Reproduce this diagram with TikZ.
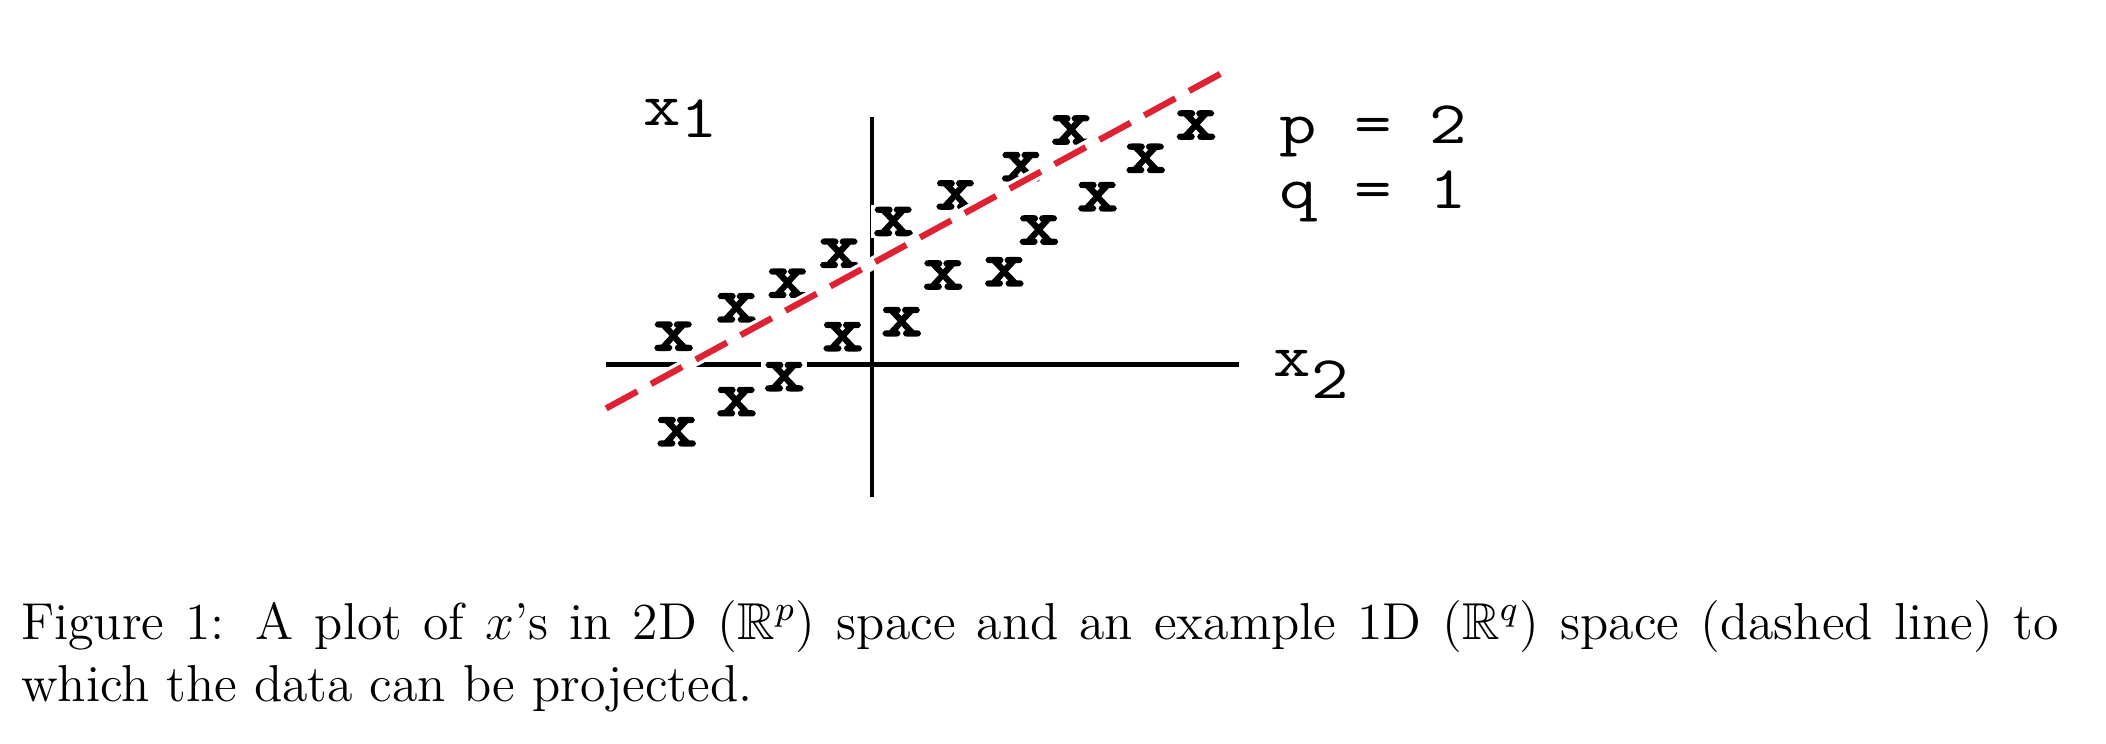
\documentclass[tikz,border=0pt]{standalone}
\usepackage{fontspec}
\usepackage{amssymb}
\usepackage{graphicx}
\newfontfamily\crossfont{lmmonolt10-bold}[Extension=.otf, FakeBold=2.2]
\definecolor{dashred}{RGB}{222,34,52}
\tikzset{
 axis/.style={line width=1pt, black},
 pt/.style={font=\fontsize{15}{17}\selectfont\crossfont, fill=white, inner sep=0.6pt},
 lbl/.style={font=\fontsize{14}{16}\selectfont\ttfamily, inner sep=0pt, anchor=base west},
 halo/.style={white, line width=3pt},
 proj/.style={dashred, line width=1.45pt, dash pattern=on 8.2pt off 3.6pt},
}
\newcommand\wide[1]{\scalebox{1.2}[1]{#1}}
\begin{document}
\begin{tikzpicture}[x=0.312pt,y=-0.312pt]
\useasboundingbox (0,0) rectangle (1560,551.1);
% axes
\coordinate (hL) at (449,270); \coordinate (hR) at (918,270);
\coordinate (vT) at (646,86.5); \coordinate (vB) at (646,368);
\draw[axis] (hL) -- (hR);
\draw[axis] (vT) -- (vB);
% data points
\node[pt] (c1) at (499,249) {\wide{x}};
\node[pt] (c2) at (545.6,228) {\wide{x}};
\node[pt] (c3) at (583.6,209.8) {\wide{x}};
\node[pt] (c4) at (621.8,187.6) {\wide{x}};
\node[pt] (c5) at (661.9,164) {\wide{x}};
\node[pt] (c6) at (708,144.4) {\wide{x}};
\node[pt] (c7) at (756.5,123.5) {\wide{x}};
\node[pt] (c8) at (793.7,96.3) {\wide{x}};
\node[pt] (c9) at (886,92.6) {\wide{x}};
\node[pt] (c10) at (848.7,117.3) {\wide{x}};
\node[pt] (c11) at (813,145.7) {\wide{x}};
\node[pt] (c12) at (769.6,170.4) {\wide{x}};
\node[pt] (c13) at (744,201.3) {\wide{x}};
\node[pt] (c14) at (698.7,203.7) {\wide{x}};
\node[pt] (c15) at (668,238.3) {\wide{x}};
\node[pt] (c16) at (624.3,249.4) {\wide{x}};
\node[pt] (c17) at (581,279) {\wide{x}};
\node[pt] (c18) at (545.6,297.5) {\wide{x}};
\node[pt] (c19) at (501.3,319.8) {\wide{x}};
% projection line
\coordinate (pL) at (449,302.5); \coordinate (pR) at (909,52);
\draw[halo] (pL) -- (pR);
\draw[proj] (pL) -- (pR);
% labels
\node[lbl] (x1) at (476,92.6) {\wide{x\raisebox{-2.8pt}{1}}};
\node[lbl] (x2) at (943,279) {\wide{x\raisebox{-5pt}{2}}};
\node[lbl] (p) at (947,106.2) {\wide{p = 2}};
\node[lbl] (q) at (947,154.3) {\wide{q = 1}};
% caption
\node[anchor=north west, inner sep=0pt, text width=471pt, align=justify,
      font=\fontsize{12}{14.35}\selectfont] (cap) at (15,444)
  {Figure 1: A plot of $x$'s in 2D ($\mathbb{R}^p$) space and an example 1D ($\mathbb{R}^q$) space (dashed line) to\linebreak which the data can be projected.};
\end{tikzpicture}
\end{document}
